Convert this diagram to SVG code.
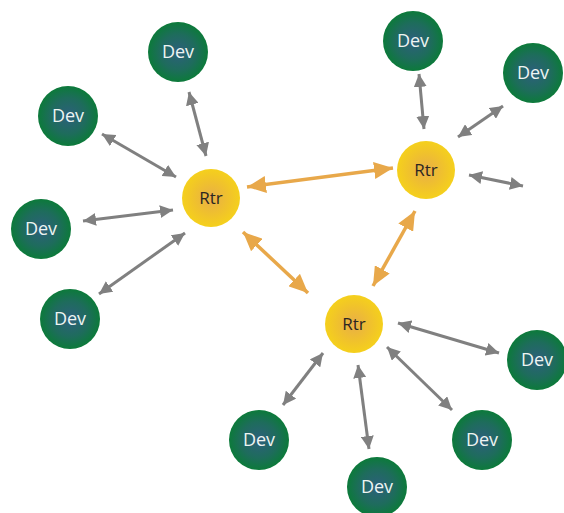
<svg xmlns="http://www.w3.org/2000/svg" width="564" height="513" viewBox="0 0 564 513">
  <defs>
    <radialGradient id="devFill" cx="50%" cy="50%" r="50%">
      <stop offset="0" stop-color="#2d5f7c"/>
      <stop offset="0.6" stop-color="#1e6c5c"/>
      <stop offset="1" stop-color="#0c7a3a"/>
    </radialGradient>
    <radialGradient id="rtrFill" cx="50%" cy="50%" r="50%">
      <stop offset="0" stop-color="#e8ae48"/>
      <stop offset="0.6" stop-color="#f0c22c"/>
      <stop offset="1" stop-color="#f5d01c"/>
    </radialGradient>
    <marker id="headGray" viewBox="0 0 13 13" refX="13" refY="6.5" markerWidth="13" markerHeight="13" markerUnits="userSpaceOnUse" orient="auto-start-reverse">
      <path d="M0,0 L13,6.5 L0,13 z" fill="#808080"/>
    </marker>
    <marker id="headOrange" viewBox="0 0 19 17" refX="19" refY="8.5" markerWidth="19" markerHeight="17" markerUnits="userSpaceOnUse" orient="auto-start-reverse">
      <path d="M0,0 L19,8.5 L0,17 z" fill="#e8a84a"/>
    </marker>
  </defs>
  <style>
    .dev circle { fill: url(#devFill); }
    .rtr circle { fill: url(#rtrFill); }
    .dev text { font-family: "Open Sans", "Liberation Sans", sans-serif; font-size: 18px; fill: #eef4f2; text-anchor: middle; }
    .rtr text { font-family: "Open Sans", "Liberation Sans", sans-serif; font-size: 17px; fill: #2b2622; text-anchor: middle; }
    .link { stroke: #808080; stroke-width: 3; fill: none; marker-start: url(#headGray); marker-end: url(#headGray); }
    .trunk { stroke: #e8a84a; stroke-width: 3.5; fill: none; marker-start: url(#headOrange); marker-end: url(#headOrange); }
  </style>

  <!-- connectors -->
  <g id="connectors">
    <line class="link" x1="189" y1="92" x2="206" y2="156"/>
    <line class="link" x1="102" y1="134" x2="176" y2="177"/>
    <line class="link" x1="83" y1="221" x2="173" y2="210"/>
    <line class="link" x1="99" y1="294" x2="185" y2="233"/>
    <line class="link" x1="419" y1="74" x2="424" y2="129"/>
    <line class="link" x1="503" y1="106" x2="458" y2="137"/>
    <line class="link" x1="469" y1="175" x2="523" y2="186"/>
    <line class="link" x1="398" y1="323" x2="499" y2="353"/>
    <line class="link" x1="387" y1="347" x2="452" y2="410"/>
    <line class="link" x1="358" y1="365" x2="369" y2="449"/>
    <line class="link" x1="323" y1="353" x2="283" y2="405"/>
    <line class="trunk" x1="247" y1="187" x2="393" y2="168"/>
    <line class="trunk" x1="243" y1="232" x2="308" y2="293"/>
    <line class="trunk" x1="415" y1="211" x2="373" y2="286"/>
  </g>

  <!-- routers -->
  <g id="rtr1" class="rtr"><circle cx="211" cy="198" r="29"/><text x="211" y="204">Rtr</text></g>
  <g id="rtr2" class="rtr"><circle cx="426" cy="170" r="29"/><text x="426" y="176">Rtr</text></g>
  <g id="rtr3" class="rtr"><circle cx="354" cy="324" r="29"/><text x="354" y="330">Rtr</text></g>

  <!-- devices -->
  <g id="dev1" class="dev"><circle cx="178" cy="52" r="30"/><text x="178" y="58">Dev</text></g>
  <g id="dev2" class="dev"><circle cx="68" cy="116" r="30"/><text x="68" y="122">Dev</text></g>
  <g id="dev3" class="dev"><circle cx="41" cy="229" r="30"/><text x="41" y="235">Dev</text></g>
  <g id="dev4" class="dev"><circle cx="70" cy="319" r="30"/><text x="70" y="325">Dev</text></g>
  <g id="dev5" class="dev"><circle cx="413" cy="41" r="30"/><text x="413" y="47">Dev</text></g>
  <g id="dev6" class="dev"><circle cx="533" cy="73" r="30"/><text x="533" y="79">Dev</text></g>
  <g id="dev7" class="dev"><circle cx="537" cy="360" r="30"/><text x="537" y="366">Dev</text></g>
  <g id="dev8" class="dev"><circle cx="482" cy="440" r="30"/><text x="482" y="446">Dev</text></g>
  <g id="dev9" class="dev"><circle cx="377" cy="487" r="30"/><text x="377" y="493">Dev</text></g>
  <g id="dev10" class="dev"><circle cx="259" cy="440" r="30"/><text x="259" y="446">Dev</text></g>
</svg>
